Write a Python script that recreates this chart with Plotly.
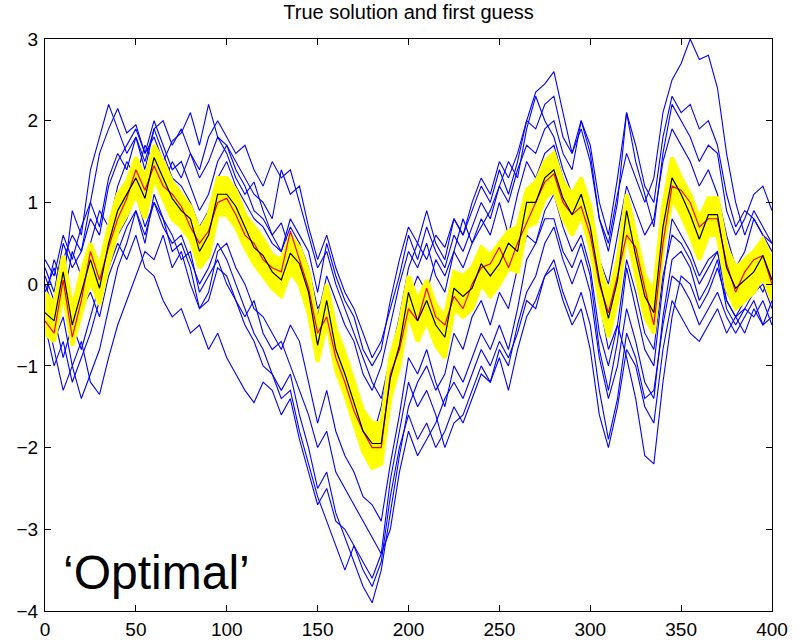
import plotly.graph_objects as go

# x grid of the sampled points (every 5 steps)
X = list(range(0, 401, 5))

# true solution (black)
truth = [
    -0.35, -0.45, 0.15, -0.5, -0.1, 0.3, -0.05, 0.5, 0.9, 1.1,
    1.3, 1.05, 1.55, 1.3, 1.05, 0.9, 0.8, 0.4, 0.6, 1.1,
    1.1, 0.95, 0.7, 0.45, 0.35, 0.15, 0.05, 0.38, 0.25, -0.1,
    -0.75, -0.2, -0.8, -1.1, -1.45, -1.8, -1.95, -1.95, -1.15, -0.75,
    -0.1, -0.45, -0.2, -0.5, -0.65, -0.05, -0.15, -0.05, 0.25, 0.1,
    0.25, 0.5, 0.4, 1.0, 1.0, 1.3, 1.4, 1.05, 0.85, 1.1,
    0.7, 0.05, -0.42, 0.05, 0.9, 0.35, -0.15, -0.35, 0.7, 1.3,
    1.1, 0.85, 0.55, 0.85, 0.85, 0.2, -0.05, 0.05, 0.15, 0.35,
    0.05,
]

# optimal estimate (red)
estimate = [
    -0.45, -0.6, 0.05, -0.65, -0.2, 0.4, 0.05, 0.45, 0.8, 1.05,
    1.4, 1.15, 1.45, 1.2, 1.1, 0.95, 0.7, 0.5, 0.65, 1.0,
    1.05, 0.85, 0.6, 0.5, 0.3, 0.2, 0.15, 0.65, 0.3, -0.05,
    -0.6, -0.4, -0.9, -1.2, -1.55, -1.8, -2.0, -2.0, -1.1, -0.8,
    -0.3, -0.45, -0.05, -0.4, -0.5, -0.15, -0.3, 0.0, 0.2, 0.25,
    0.45, 0.2, 0.5, 0.75, 1.0, 1.25, 1.35, 1.0, 0.85, 0.95,
    0.6, 0.0, -0.35, 0.1, 0.6, 0.45, -0.05, -0.5, 0.5, 1.2,
    1.15, 1.0, 0.7, 0.8, 0.8, 0.25, -0.1, 0.15, 0.3, 0.35,
    0.0,
]

# upper and lower members of the analysis ensemble (yellow)
ens_upper = [
    -0.1, -0.25, 0.35, -0.3, 0.15, 0.5, 0.2, 0.7, 1.1, 1.25,
    1.55, 1.3, 1.7, 1.5, 1.25, 1.1, 0.95, 0.65, 0.85, 1.3,
    1.3, 1.15, 0.85, 0.7, 0.55, 0.35, 0.3, 0.6, 0.45, 0.15,
    -0.5, 0.0, -0.55, -0.85, -1.2, -1.55, -1.7, -1.7, -0.9, -0.5,
    0.1, -0.2, 0.05, -0.25, -0.4, 0.15, 0.1, 0.2, 0.45, 0.35,
    0.5, 0.65, 0.7, 1.15, 1.25, 1.5, 1.6, 1.25, 1.1, 1.3,
    0.95, 0.25, -0.15, 0.3, 1.1, 0.6, 0.1, -0.1, 0.95, 1.55,
    1.3, 1.1, 0.8, 1.05, 1.05, 0.45, 0.2, 0.3, 0.4, 0.55,
    0.3,
]
ens_lower = [
    -0.6, -0.7, -0.1, -0.75, -0.35, 0.05, -0.25, 0.25, 0.65, 0.85,
    1.1, 0.8, 1.3, 1.05, 0.8, 0.7, 0.55, 0.2, 0.35, 0.85,
    0.85, 0.7, 0.45, 0.25, 0.1, -0.05, -0.15, 0.15, 0.0, -0.35,
    -0.95, -0.45, -1.05, -1.35, -1.7, -2.05, -2.25, -2.2, -1.4, -1.0,
    -0.35, -0.7, -0.45, -0.75, -0.9, -0.3, -0.4, -0.3, 0.0, -0.15,
    0.0, 0.2, 0.15, 0.7, 0.75, 1.05, 1.15, 0.8, 0.6, 0.85,
    0.45, -0.2, -0.65, -0.2, 0.65, 0.1, -0.4, -0.6, 0.45, 1.05,
    0.85, 0.6, 0.3, 0.6, 0.6, -0.05, -0.3, -0.2, -0.1, 0.1,
    -0.2,
]

# first guesses (blue)
guess1 = [
    0.1, -0.2, 0.3, 0.6, 0.4, 1.0, 1.6, 1.9, 2.15, 1.85,
    1.95, 1.6, 1.8, 1.5, 1.75, 1.85, 2.1, 1.7, 2.2, 1.8,
    1.6, 1.3, 1.1, 1.25, 0.9, 0.6, 0.75, 0.4, 0.5, 0.2,
    -0.3, -0.1, -0.6, -0.9, -1.3, -1.6, -1.9, -1.5, -0.9, -0.4,
    0.2, 0.5, 0.3, 0.6, 0.45, 0.8, 0.6, 1.0, 1.3, 1.1,
    1.5, 1.3, 1.6, 2.0, 2.35, 2.45, 2.6, 2.1, 1.6, 1.9,
    1.5, 0.8, 0.5, 1.1, 1.6, 1.3, 1.0, 1.3, 2.1, 2.5,
    2.7, 3.0, 2.75, 2.8, 2.4, 1.6, 1.0, 0.6, 0.9, 0.7,
    0.5,
]
guess2 = [
    -0.5, -1.0, -0.7, -1.2, -0.9, -0.6, -0.2, 0.3, 0.6, 0.8,
    1.1, 0.7, 1.0, 0.8, 0.6, 0.3, 0.4, -0.1, 0.1, 0.3,
    0.0, -0.2, -0.5, -0.7, -1.0, -1.1, -1.3, -1.1, -1.6, -2.0,
    -2.5, -2.3, -2.8, -3.1, -3.4, -3.7, -3.9, -3.5, -2.8, -2.1,
    -1.5, -1.2, -1.0, -1.3, -1.1, -0.6, -0.8, -0.4, -0.2, -0.5,
    -0.1, -0.3, 0.2, 0.6, 0.5, 0.9, 1.1, 0.7, 0.4, 0.6,
    0.2, -0.6, -1.0, -0.5, 0.3, -0.1, -0.6, -0.8, 0.1, 0.6,
    0.5, 0.3, 0.0, 0.2, 0.4, -0.2, -0.4, -0.3, -0.1, 0.0,
    -0.3,
]
guess3 = [
    -0.3, -0.8, -1.3, -1.0, -1.4, -1.1, -0.8, -0.3, 0.2, 0.5,
    0.9, 0.6, 1.0, 0.7, 0.5, 0.6, 0.3, 0.0, 0.2, 0.5,
    0.3, 0.0, -0.3, -0.6, -0.8, -1.1, -1.4, -1.3, -1.8, -2.2,
    -2.6, -2.9, -3.2, -3.5, -3.2, -3.5, -3.7, -3.4, -2.6, -2.0,
    -1.6, -1.9, -1.7, -2.0, -1.8, -1.5, -1.7, -1.4, -1.1, -1.2,
    -0.9, -1.3, -0.8, -0.4, -0.2, 0.1, 0.3, -0.1, -0.4, -0.1,
    -0.5, -1.3, -1.9, -1.4, -0.6, -0.9, -1.4, -1.3, -0.5, 0.1,
    0.0, -0.2, -0.5, -0.3, -0.1, -0.4, -0.6, -0.4, -0.2, -0.5,
    -0.4,
]
guess4 = [
    0.2, -0.1, 0.5, 0.2, 0.4, 0.8, 0.6, 1.2, 1.5, 1.7,
    1.9, 1.6, 2.0, 1.7, 1.4, 1.5, 1.2, 0.9, 1.1, 1.5,
    1.7, 1.4, 1.2, 0.9, 0.8, 0.6, 0.4, 0.7, 0.5, 0.1,
    -0.4, 0.1, -0.2, -0.5, -0.7, -1.1, -1.3, -1.0, -0.5, 0.0,
    0.4, 0.2, 0.5, 0.1, -0.1, 0.4, 0.2, 0.5, 0.8, 0.6,
    1.0, 0.6, 1.1, 1.5, 1.3, 1.6, 1.7, 1.3, 1.0, 1.3,
    0.9, -0.2, -0.8, -0.5, -0.9, -1.4, -2.1, -2.2, -1.2, -0.4,
    0.1, 0.0, -0.3, -0.1, 0.2, -0.2, -0.4, -0.2, 0.1, -0.1,
    0.2,
]
guess5 = [
    -0.6, -0.4, -0.9, -0.5, -0.8, -0.4, 0.0, 0.2, 0.5, 0.3,
    0.6, 0.2, 0.1, -0.2, -0.4, -0.3, -0.6, -0.5, -0.8, -0.6,
    -0.9, -1.1, -1.3, -1.45, -1.2, -1.3, -1.6, -1.4, -1.9, -2.3,
    -2.7, -2.5, -2.9, -3.0, -3.2, -3.4, -3.6, -3.3, -2.4, -1.8,
    -1.2, -1.5, -1.3, -1.6, -2.0, -1.7, -1.6, -1.3, -1.0, -1.2,
    -0.8, -1.0, -0.5, -0.1, 0.1, 0.5, 0.7, 0.3, 0.0, 0.3,
    -0.1, -0.9, -1.4, -1.0, -0.3, -0.7, -1.2, -1.4, -0.4, 0.3,
    0.4, 0.2, -0.2, 0.0, 0.3, -0.3, -0.5, -0.3, -0.4, -0.2,
    -0.5,
]
guess6 = [
    -0.2, 0.3, 0.0, 0.9, 0.6, 1.4, 1.8, 2.2, 1.9, 1.6,
    1.8, 1.4, 1.9, 1.6, 1.3, 1.2, 1.0, 0.7, 0.9, 1.3,
    1.5, 1.2, 1.0, 0.8, 0.7, 0.5, 0.4, 0.8, 0.6, 0.4,
    -0.1, 0.5, 0.1, -0.2, -0.4, -0.8, -1.0, -0.8, -0.2, 0.3,
    0.7, 0.5, 0.9, 0.5, 0.3, 0.8, 0.6, 0.9, 1.2, 1.0,
    1.4, 1.1, 1.5, 2.0, 1.9, 2.2, 2.3, 1.8, 1.6, 2.0,
    1.6, 0.8, 0.4, 1.0, 2.1, 1.5, 1.1, 0.7, 1.6, 2.2,
    2.0, 1.8, 1.5, 1.7, 1.6, 0.9, 0.6, 0.8, 1.1, 1.2,
    0.9,
]
guess7 = [
    0.0, -0.3, -0.1, -0.7, -0.3, -0.1, -0.4, 0.1, 0.4, 0.7,
    0.9, 0.5, 1.1, 0.8, 0.4, 0.5, 0.2, -0.3, -0.1, 0.4,
    0.5, 0.2, 0.0, -0.3, -0.4, -0.6, -0.8, -0.5, -0.7, -1.2,
    -1.7, -1.3, -1.8, -2.1, -2.3, -2.6, -2.7, -2.9, -2.2, -1.6,
    -0.9, -1.1, -0.8, -1.2, -1.5, -1.0, -1.2, -0.9, -0.6, -0.8,
    -0.5, -0.8, -0.3, 0.3, 0.5, 0.8, 0.8, 0.4, 0.2, 0.5,
    0.1, -0.8, -1.3, -0.7, 0.2, -0.3, -0.8, -1.0, 0.0, 0.8,
    0.6, 0.4, 0.1, 0.3, 0.4, -0.1, -0.3, -0.1, 0.0, 0.2,
    -0.1,
]
guess8 = [
    0.3, 0.1, 0.6, 0.3, 0.7, 1.0, 0.7, 1.3, 1.6, 1.4,
    1.8, 1.5, 1.9, 2.0, 1.7, 1.9, 1.6, 1.3, 1.5, 1.8,
    1.7, 1.5, 1.3, 1.1, 1.0, 0.8, 1.4, 1.1, 1.2, 0.7,
    0.3, 0.6, 0.2, -0.1, -0.3, -0.6, -0.9, -0.7, -0.3, 0.1,
    0.6, 0.3, 0.7, 0.4, 0.2, 0.6, 0.4, 0.7, 1.0, 0.8,
    1.2, 1.0, 1.4, 1.7, 1.6, 1.9, 2.0, 1.6, 1.4, 2.0,
    1.7, 1.0, 0.6, 1.3, 2.1, 1.7, 1.2, 1.0, 1.8, 2.3,
    2.1, 2.2, 1.9, 2.0, 1.7, 1.1, 0.7, 0.9, 0.8, 0.6,
    0.4,
]
guess9 = [
    -0.4, -0.7, -0.4, -1.0, -0.7, -1.2, -1.35, -0.9, -0.5, -0.2,
    0.1, 0.4, 0.3, 0.6, 0.2, 0.4, 0.0, -0.3, -0.2, 0.2,
    0.1, -0.2, -0.4, -0.2, -0.6, -0.8, -0.7, -1.0, -1.3, -1.6,
    -2.0, -1.8, -2.3, -2.5, -2.7, -2.9, -3.1, -3.3, -3.0, -2.3,
    -1.8, -2.1, -1.9, -1.7, -1.4, -1.2, -1.4, -1.1, -0.8, -1.0,
    -0.7, -0.9, -0.6, -0.2, -0.3, 0.1, 0.2, -0.2, -0.5, -0.3,
    -0.8, -1.6, -2.0, -1.5, -0.8, -1.0, -1.5, -1.7, -0.8, -0.2,
    -0.4, -0.6, -0.7, -0.5, -0.3, -0.6, -0.4, -0.6, -0.3, -0.5,
    -0.2,
]
guess10 = [
    -0.1, 0.2, -0.2, 0.4, 0.1, 0.5, 0.9, 0.7, 1.2, 1.5,
    1.3, 1.7, 1.5, 1.2, 1.5, 1.3, 1.6, 1.4, 1.8, 2.0,
    1.8, 1.6, 1.7, 1.4, 1.2, 1.5, 1.3, 1.4, 1.0, 0.6,
    0.2, 0.4, 0.0, -0.3, -0.6, -0.9, -1.2, -1.4, -0.9, -0.6,
    -0.2, 0.1, -0.1, 0.3, 0.1, 0.4, 0.8, 0.5, 0.7, 0.9,
    1.2, 1.5, 1.3, 1.9, 2.3, 2.0, 1.8, 1.4, 1.1, 1.3,
    0.9, 0.3, 0.0, 0.6, 1.2, 0.9, 0.6, 0.8, 1.5, 1.9,
    1.7, 1.5, 1.2, 1.4, 1.1, 0.6, 0.2, 0.4, 0.8, 0.6,
    0.5,
]

guesses = [guess1, guess2, guess3, guess4, guess5,
           guess6, guess7, guess8, guess9, guess10]

TITLE = "True solution and first guess"
LABEL = "\u2018Optimal\u2019"
X_TICKS = [0, 50, 100, 150, 200, 250, 300, 350, 400]
Y_TICKS = [-4, -3, -2, -1, 0, 1, 2, 3]

FONT = "Liberation Sans, Arial, Helvetica, sans-serif"
YELLOW = "#ffff00"

fig = go.Figure()
for g in guesses:
    fig.add_trace(go.Scatter(x=X, y=g, mode="lines",
                             line=dict(color="#0000ff", width=1.1),
                             hoverinfo="skip", showlegend=False))
# yellow ensemble spread: band between lower and upper members
fig.add_trace(go.Scatter(x=X, y=ens_lower, mode="lines",
                         line=dict(color=YELLOW, width=4),
                         hoverinfo="skip", showlegend=False))
fig.add_trace(go.Scatter(x=X, y=ens_upper, mode="lines",
                         line=dict(color=YELLOW, width=4),
                         fill="tonexty", fillcolor=YELLOW,
                         hoverinfo="skip", showlegend=False))
fig.add_trace(go.Scatter(x=X, y=estimate, mode="lines",
                         line=dict(color="#ff0000", width=1.2),
                         showlegend=False))
fig.add_trace(go.Scatter(x=X, y=truth, mode="lines",
                         line=dict(color="#000000", width=1.2),
                         showlegend=False))

axis_common = dict(showgrid=False, zeroline=False, showline=True,
                   linecolor="black", linewidth=1, mirror="allticks",
                   ticks="inside", ticklen=6, tickcolor="black",
                   automargin=False,
                   tickfont=dict(family=FONT, size=19, color="black"))

fig.update_layout(
    width=803, height=644,
    margin=dict(l=45, r=31, t=39, b=33),
    paper_bgcolor="white", plot_bgcolor="white",
    xaxis=dict(range=[0, 400], tickvals=X_TICKS, ticklabelstandoff=1,
               **axis_common),
    yaxis=dict(range=[-4, 3], tickvals=Y_TICKS, ticklabelstandoff=2,
               **axis_common),
    title=dict(text=TITLE, x=0.5, xref="paper", y=1 - 12 / 644,
               yref="container", yanchor="middle",
               font=dict(family=FONT, size=20, color="black")),
    annotations=[dict(text=LABEL, xref="paper", yref="paper",
                      x=0.022, y=0.068, xanchor="left", yanchor="middle",
                      showarrow=False,
                      font=dict(family=FONT, size=48, color="black"))],
)

fig.write_html("out.html")
